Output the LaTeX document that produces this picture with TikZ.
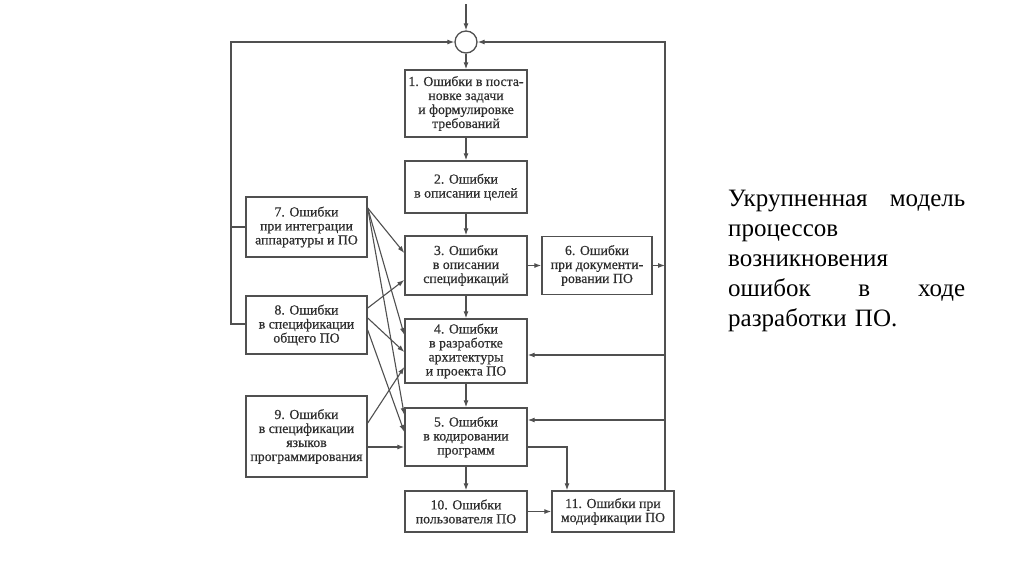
\documentclass[tikz,border=0pt]{standalone}
\usepackage{fontspec}
\setmainfont{Liberation Serif}
\newfontfamily\boxfont{Liberation Serif}[FakeBold=0.5]
\usetikzlibrary{arrows.meta,calc}
\definecolor{ln}{HTML}{505050}
\definecolor{tx}{HTML}{2E2E2E}
\begin{document}
\begin{tikzpicture}[x=1pt,y=-1pt,
  box/.style={draw=ln, line width=1.4pt, text=tx, font=\boxfont\fontsize{13.8}{14}\selectfont, align=center, inner sep=1pt},
  con/.style={draw=ln, line width=1.1pt},
  arr/.style={con, -{Latex[length=7pt,width=5pt]}},
]
\fill[white] (0,0) rectangle (1024,574);
\path[use as bounding box] (0,0) rectangle (1024,574);

% main column
\node[draw=ln, line width=1.3pt, circle, minimum size=22pt, inner sep=0pt] (c) at (466,42) {};
\node[box, minimum width=122pt, minimum height=67pt] (b1) at (466,103.5) {1. Ошибки в поста-\\новке задачи\\и формулировке\\требований};
\node[box, minimum width=122pt, minimum height=52pt] (b2) at (466,187) {2. Ошибки\\в описании целей};
\node[box, minimum width=122pt, minimum height=59pt] (b3) at (466,265.5) {3. Ошибки\\в описании\\спецификаций};
\node[box, minimum width=122pt, minimum height=64pt] (b4) at (466,351) {4. Ошибки\\в разработке\\архитектуры\\и проекта ПО};
\node[box, minimum width=122pt, minimum height=58pt] (b5) at (466,437) {5. Ошибки\\в кодировании\\программ};
\node[box, minimum width=110pt, minimum height=58pt] (b6) at (597,265.5) {6. Ошибки\\при документи-\\ровании ПО};
\node[box, minimum width=121pt, minimum height=60pt] (b7) at (306.5,227) {7. Ошибки\\при интеграции\\аппаратуры и ПО};
\node[box, minimum width=121pt, minimum height=58pt] (b8) at (306.5,325) {8. Ошибки\\в спецификации\\общего ПО};
\node[box, minimum width=121pt, minimum height=81pt] (b9) at (306.5,436.5) {9. Ошибки\\в спецификации\\языков\\программирования};
\node[box, minimum width=122pt, minimum height=41pt] (b10) at (466,511.5) {10. Ошибки\\пользователя ПО};
\node[box, minimum width=122pt, minimum height=41pt] (b11) at (613,511.5) {11. Ошибки при\\модификации ПО};

% caption
\node[anchor=north west, text=black, font=\fontsize{25}{30}\selectfont, align=left, inner sep=0pt, text width=237pt] (cap) at (728,190)
  {Укрупненная\hfill модель\\процессов\\возникновения\\ошибок\hfill в\hfill ходе\\разработки ПО.};

% coordinates
\coordinate (top) at (466,4);
\coordinate (rt) at (665,42);
\coordinate (lt) at (231,42);
\coordinate (l8) at (231,324);
\coordinate (r4) at (665,355);
\coordinate (r5) at (665,420);
\coordinate (k) at (567,447);

% vertical chain
\draw[arr] (top) -- (c.north);
\draw[arr] (c.south) -- (b1.north);
\draw[arr] (b1) -- (b2);
\draw[arr] (b2) -- (b3);
\draw[arr] (b3) -- (b4);
\draw[arr] (b4) -- (b5);
\draw[arr] (b5) -- (b10);
\draw[arr] (b3) -- (b6);
\draw[arr] (b10) -- (b11);

% right feedback
\draw[arr] (b11.north -| rt) -- (rt) -- (c.east);
\draw[arr] (b6.east) -- (b6.east -| rt);
\draw[arr] (r4) -- (r4 -| b4.east);
\draw[arr] (r5) -- (r5 -| b5.east);
\draw[arr] (k -| b5.east) -- (k) -- (k |- b11.north);

% left feedback
\draw[arr] (l8 -| b8.west) -- (l8) -- (lt) -- (c.west);
\draw[con] (b7.west) -- (b7.west -| lt);

% crossing lines
\draw[arr] (b7.east |- 0,208) -- (b3.west |- 0,253);
\draw[arr] (b7.east |- 0,208) -- (b4.west |- 0,335);
\draw[arr] (b7.east |- 0,208) -- (b5.west |- 0,415);
\draw[arr] (b8.east |- 0,308) -- (b3.west |- 0,280);
\draw[arr] (b8.east |- 0,318) -- (b4.west |- 0,352);
\draw[arr] (b8.east |- 0,330) -- (b5.west |- 0,432);
\draw[arr] (b9.east |- 0,423) -- (b4.west |- 0,367);
\draw[arr] (b9.east |- 0,447) -- (b5.west |- 0,447);
\end{tikzpicture}
\end{document}
